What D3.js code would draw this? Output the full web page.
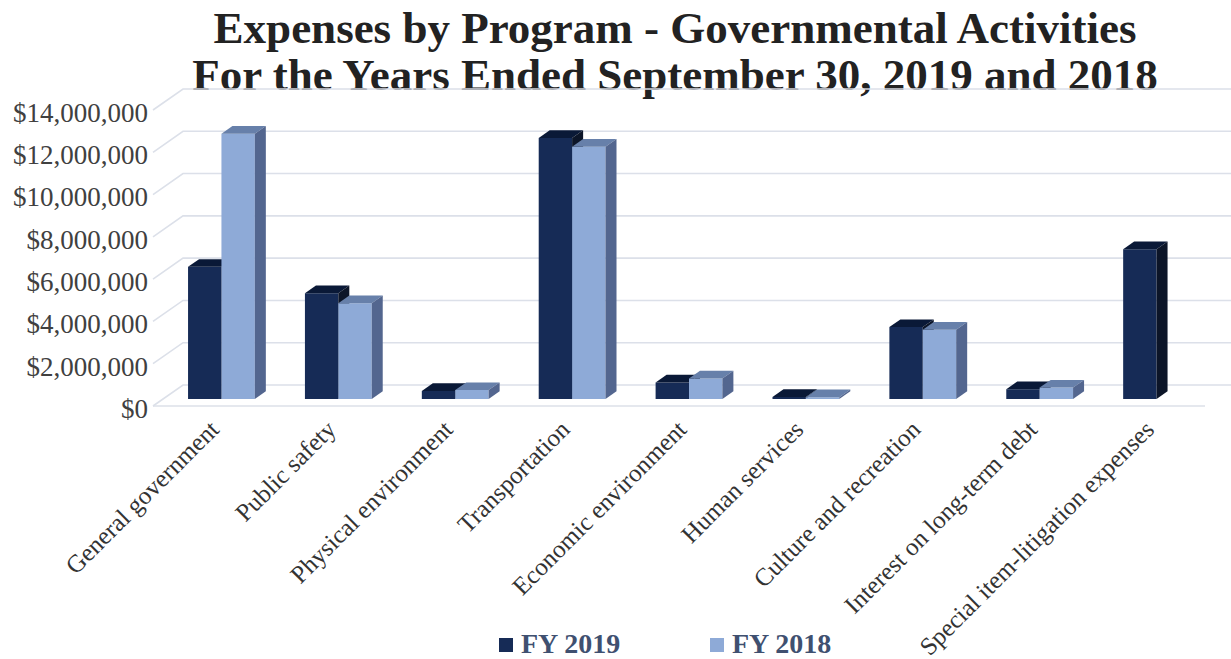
<!DOCTYPE html>
<html>
<head>
<meta charset="utf-8">
<script src="https://cdn.jsdelivr.net/npm/d3@7"></script>
<style>
  html, body { margin: 0; padding: 0; background: #fff; }
  svg { display: block; font-family: "Liberation Serif", "Times New Roman", serif; }
</style>
</head>
<body>
<svg id="chart" width="1231" height="659"></svg>
<script>
const categories = [
  "General government", "Public safety", "Physical environment", "Transportation",
  "Economic environment", "Human services", "Culture and recreation",
  "Interest on long-term debt", "Special item-litigation expenses"
];
const seriesNames = ["FY 2019", "FY 2018"];
const fy2019 = [6250000, 5000000, 380000, 12350000, 780000, 100000, 3400000, 460000, 7080000];
const fy2018 = [12550000, 4530000, 420000, 11930000, 970000, 80000, 3280000, 540000, 0];
const yTicks = [0, 2000000, 4000000, 6000000, 8000000, 10000000, 12000000, 14000000];
const titleLines = ["Expenses by Program - Governmental Activities", "For the Years Ended September 30, 2019 and 2018"];

const colors = {
  "FY 2019": { front: "#162b56", top: "#0a1937", side: "#0c1528" },
  "FY 2018": { front: "#8eaad7", top: "#6780aa", side: "#53668f" }
};

const svg = d3.select("#chart");

// 3D frame geometry
const floorLeft = 153, floorRight = 1205, floorY = 406;
const depthX = 30, depthY = 21;
const f1 = 1 / 3, f2 = 0.7;

const x = d3.scaleBand().domain(categories).range([floorLeft, floorRight]).padding(0);
const xs = d3.scaleBand().domain(seriesNames).range([0, x.bandwidth()]).paddingInner(0).paddingOuter(0.75);
const y = d3.scaleLinear().domain([0, 14000000]).range([floorY, 110]);

// Title
svg.append("g").selectAll("text").data(titleLines).join("text")
  .attr("x", 675).attr("y", (d, i) => 43 + i * 47)
  .attr("text-anchor", "middle")
  .attr("font-size", 45).attr("font-weight", "bold").attr("fill", "#222")
  .text(d => d);

// Gridlines: back wall + left wall diagonals
const grid = svg.append("g").attr("stroke", "#dce0e9").attr("stroke-width", 1.6).attr("fill", "none");
grid.selectAll("path.g").data(yTicks).join("path").attr("class", "g")
  .attr("d", v => `M${floorLeft},${y(v)} L${floorLeft + depthX},${y(v) - depthY} L${floorRight + depthX},${y(v) - depthY}`);
// floor front edge
grid.append("path").attr("d", `M${floorLeft},${floorY} L${floorRight},${floorY}`);

// Y axis labels
const yAxis = d3.axisLeft(y).tickValues(yTicks).tickSize(0).tickPadding(0).tickFormat(d3.format("$,"));
const gy = svg.append("g").attr("transform", `translate(148,0)`).call(yAxis);
gy.select(".domain").remove();
gy.selectAll("text").attr("font-family", "Liberation Serif, Times New Roman, serif")
  .attr("font-size", 27).attr("fill", "#404040").attr("dy", "0.42em");

// Bars
const bars = [];
categories.forEach((c, i) => {
  [fy2019[i], fy2018[i]].forEach((v, j) => {
    bars.push({ c, s: seriesNames[j], v });
  });
});
const dx = (f2 - f1) * depthX, dy = (f2 - f1) * depthY;
const bw = xs.bandwidth();
const gb = svg.append("g");
bars.filter(b => b.v > 0).forEach(b => {
  const x0 = x(b.c) + xs(b.s) + f1 * depthX;
  const x1 = x0 + bw;
  const yt = y(b.v) - f1 * depthY;
  const yb = y(0) - f1 * depthY;
  const col = colors[b.s];
  const g = gb.append("g");
  g.append("path").attr("fill", col.front)
    .attr("d", `M${x0},${yt} L${x1},${yt} L${x1},${yb} L${x0},${yb} Z`);
  g.append("path").attr("fill", col.top)
    .attr("d", `M${x0},${yt} L${x1},${yt} L${x1 + dx},${yt - dy} L${x0 + dx},${yt - dy} Z`);
  g.append("path").attr("fill", col.side)
    .attr("d", `M${x1},${yt} L${x1 + dx},${yt - dy} L${x1 + dx},${yb - dy} L${x1},${yb} Z`);
});

// X axis labels
const xAxis = d3.axisBottom(x).tickSize(0).tickPadding(0);
const gx = svg.append("g").attr("transform", `translate(9,431)`).call(xAxis);
gx.select(".domain").remove();
gx.selectAll("text")
  .attr("font-family", "Liberation Serif, Times New Roman, serif")
  .attr("font-size", 25).attr("fill", "#333")
  .attr("text-anchor", "end").attr("x", 0).attr("y", 0).attr("dy", 0)
  .attr("transform", "rotate(-45)");

// Legend
const legendX = [499, 710];
const lg = svg.append("g").selectAll("g").data(seriesNames).join("g")
  .attr("transform", (d, i) => `translate(${legendX[i]},638)`);
lg.append("rect").attr("width", 14).attr("height", 14).attr("fill", d => colors[d].front);
lg.append("text").attr("x", 22).attr("y", 15)
  .attr("font-size", 28).attr("font-weight", "bold").attr("fill", "#3f5070")
  .text(d => d);
</script>
</body>
</html>
